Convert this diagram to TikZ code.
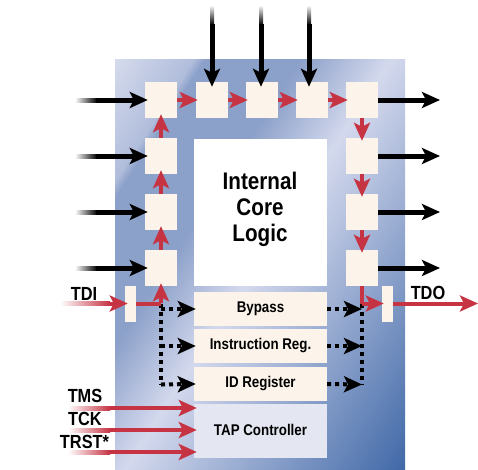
\documentclass[tikz,border=0pt]{standalone}
\usepackage{fontspec}
\setmainfont{Liberation Sans}[FakeStretch=0.86]
\usetikzlibrary{arrows.meta}

\definecolor{cellcream}{RGB}{252,244,234}
\definecolor{tapgrey}{RGB}{228,231,242}
\definecolor{sigred}{RGB}{198,52,68}

\pgfdeclarehorizontalshading{panelshade}{100bp}{
  rgb(0bp)=(.84,.86,.93);
  rgb(25.8bp)=(.84,.86,.93);
  rgb(32.8bp)=(.69,.74,.86);
  rgb(33.75bp)=(.55,.63,.79);
  rgb(42.2bp)=(.55,.63,.79);
  rgb(50bp)=(.83,.85,.93);
  rgb(75bp)=(.24,.40,.65);
  rgb(100bp)=(.24,.40,.65)}

\tikzset{
  cell/.style={fill=cellcream,inner sep=0pt,minimum width=32pt,minimum height=36pt},
  tapcell/.style={fill=cellcream,inner sep=0pt,minimum width=133pt,minimum height=34pt,font=\fontsize{15.5}{15.5}\selectfont\bfseries},
  pin/.style={fill=cellcream,inner sep=0pt,minimum width=11pt,minimum height=36pt},
  pinlabel/.style={inner sep=0pt,font=\fontsize{19}{19}\selectfont\bfseries},
  redarrow/.style={draw=sigred,line width=4pt,-{Stealth[length=18pt,width=16pt,inset=4pt]}},
  blackarrow/.style={draw=black,line width=5pt,-{Stealth[length=18pt,width=16pt,inset=4pt]}},
  dotarrow/.style={blackarrow,line width=4pt,dash pattern=on 4pt off 4pt},
  dotline/.style={draw=black,line width=4pt,dash pattern=on 4pt off 4pt},
}

\begin{document}
\begin{tikzpicture}[x=1pt,y=-1pt]
  \useasboundingbox (0,0) rectangle (478,469);

  % panel
  \begin{scope}
    \clip (115,59) rectangle (405,469);
    \shade[shading=panelshade,transform canvas={rotate=-33}] (120,-700) rectangle (600,700);
  \end{scope}

  \node[fill=white,inner sep=0pt,minimum width=133pt,minimum height=147pt] (core) at (260.5,212.5) {};
  \node[inner sep=0pt,align=center,font=\fontsize{24}{26}\selectfont\bfseries] (corelabel) at (260,209.5) {Internal\\Core\\Logic};

  \node[cell] (cellA) at (161,100) {};
  \node[cell] (cellB) at (212,100) {};
  \node[cell] (cellC) at (262,100) {};
  \node[cell] (cellD) at (312,100) {};
  \node[cell] (cellE) at (362,100) {};

  \node[cell] (cellF) at (161,156) {};
  \node[cell] (cellG) at (161,212) {};
  \node[cell] (cellH) at (161,268) {};

  \node[cell] (cellI) at (362,156) {};
  \node[cell] (cellJ) at (362,212) {};
  \node[cell] (cellK) at (362,268) {};

  \node[pin] (tdibar) at (130.5,304) {};
  \node[pin] (tdobar) at (387.5,304) {};

  \node[tapcell] (bypass) at (260.5,309) {Bypass};
  \node[tapcell] (instr) at (260.5,346) {Instruction Reg.};
  \node[tapcell] (idreg) at (260.5,384) {ID Register};
  \node[tapcell,fill=tapgrey,minimum height=54pt] (tap) at (260.5,431) {\raisebox{2pt}{TAP Controller}};

  \node[pinlabel] (tdi) at (84,294) {TDI};
  \node[pinlabel] (tdo) at (428,293) {TDO};
  \node[pinlabel] (tms) at (85,396) {TMS};
  \node[pinlabel] (tck) at (85,419) {TCK};
  \node[pinlabel] (trst) at (84.5,442) {TRST*};

  % free ends
  \coordinate (inA) at (96,100);
  \coordinate (inF) at (96,156);
  \coordinate (inG) at (96,212);
  \coordinate (inH) at (96,268);
  \coordinate (inB) at (212,24);
  \coordinate (inC) at (261,24);
  \coordinate (inD) at (309,24);
  \coordinate (outE) at (440,100);
  \coordinate (outI) at (440,156);
  \coordinate (outJ) at (440,212);
  \coordinate (outK) at (440,268);
  \coordinate (tdiin) at (110,303.5);
  \coordinate (tdojoin) at (362,303.5);
  \coordinate (tdijoin) at (161,303.5);
  \coordinate (tdoout) at (478,303.5);
  \coordinate (tmsin) at (110,408);
  \coordinate (tckin) at (110,430);
  \coordinate (trstin) at (110,452);
  \coordinate (dotL) at (161,384.5);
  \coordinate (dotR) at (362,384.5);

  % fading tails
  \shade[left color=white,right color=black] (75,98) rectangle (97,102);
  \shade[left color=white,right color=black] (75,154) rectangle (97,158);
  \shade[left color=white,right color=black] (75,210) rectangle (97,214);
  \shade[left color=white,right color=black] (75,266) rectangle (97,270);
  \shade[top color=white,bottom color=black] (210,5) rectangle (214,25);
  \shade[top color=white,bottom color=black] (259,5) rectangle (263,25);
  \shade[top color=white,bottom color=black] (307,5) rectangle (311,25);
  \shade[left color=white,right color=sigred] (60,301.5) rectangle (110,305.5);
  \shade[left color=white,right color=sigred] (68,406) rectangle (110,410);
  \shade[left color=white,right color=sigred] (68,428) rectangle (110,432);
  \shade[left color=white,right color=sigred] (68,450) rectangle (110,454);

  % inputs
  \draw[blackarrow,shorten >=-3pt] (inA) -- (cellA.west);
  \draw[blackarrow,shorten >=-3pt] (inF) -- (cellF.west);
  \draw[blackarrow,shorten >=-3pt] (inG) -- (cellG.west);
  \draw[blackarrow,shorten >=-3pt] (inH) -- (cellH.west);
  \draw[blackarrow,shorten >=-5pt] (inB) -- (cellB.north -| inB);
  \draw[blackarrow,shorten >=-5pt] (inC) -- (cellC.north -| inC);
  \draw[blackarrow,shorten >=-5pt] (inD) -- (cellD.north -| inD);

  % outputs
  \draw[blackarrow] (cellE.east) -- (outE);
  \draw[blackarrow] (cellI.east) -- (outI);
  \draw[blackarrow] (cellJ.east) -- (outJ);
  \draw[blackarrow] (cellK.east) -- (outK);

  % scan chain
  \draw[redarrow,shorten <=1pt,shorten >=-3pt] (tdijoin) -- (cellH.south);
  \draw[redarrow,shorten >=-4pt] (cellH.north) -- (cellG.south);
  \draw[redarrow,shorten >=-4pt] (cellG.north) -- (cellF.south);
  \draw[redarrow,shorten >=-4pt] (cellF.north) -- (cellA.south);
  \draw[redarrow,shorten >=-2pt] (cellA.east) -- (cellB.west);
  \draw[redarrow,shorten >=-2pt] (cellB.east) -- (cellC.west);
  \draw[redarrow,shorten >=-2pt] (cellC.east) -- (cellD.west);
  \draw[redarrow,shorten >=-2pt] (cellD.east) -- (cellE.west);
  \draw[redarrow,shorten >=-3pt] (cellE.south) -- (cellI.north);
  \draw[redarrow,shorten >=-3pt] (cellI.south) -- (cellJ.north);
  \draw[redarrow,shorten >=-3pt] (cellJ.south) -- (cellK.north);

  % dotted paths
  \draw[dotline] (tdijoin) -- (dotL);
  \draw[dotarrow,shorten >=-2pt] (tdijoin |- bypass.west) -- (bypass.west);
  \draw[dotarrow,shorten >=-2pt] (tdijoin |- instr.west) -- (instr.west);
  \draw[dotarrow,shorten >=-2pt] (dotL) -- (idreg.west);
  \draw[dotarrow] (bypass.east) -- (tdojoin |- bypass.east);
  \draw[dotarrow] (instr.east) -- (tdojoin |- instr.east);
  \draw[dotarrow] (idreg.east) -- (dotR);
  \draw[dotline] (tdojoin) -- (dotR);

  % TDI, TDO
  \draw[redarrow,shorten >=-3pt] (tdiin) -- (tdibar.west |- tdiin);
  \draw[draw=sigred,line width=4pt] (tdibar.east |- tdijoin) -- (tdijoin);
  \draw[draw=sigred,line width=4pt] (cellK.south) -- (tdojoin);
  \draw[redarrow,shorten >=-2pt] (tdojoin) -- (tdobar.west |- tdojoin);
  \draw[redarrow] (tdobar.east |- tdoout) -- (tdoout);

  % TAP inputs
  \draw[redarrow,shorten >=-3pt] (tmsin) -- (tap.west |- tmsin);
  \draw[redarrow,shorten >=-3pt] (tckin) -- (tap.west |- tckin);
  \draw[redarrow,shorten >=-3pt] (trstin) -- (tap.west |- trstin);
\end{tikzpicture}
\end{document}
